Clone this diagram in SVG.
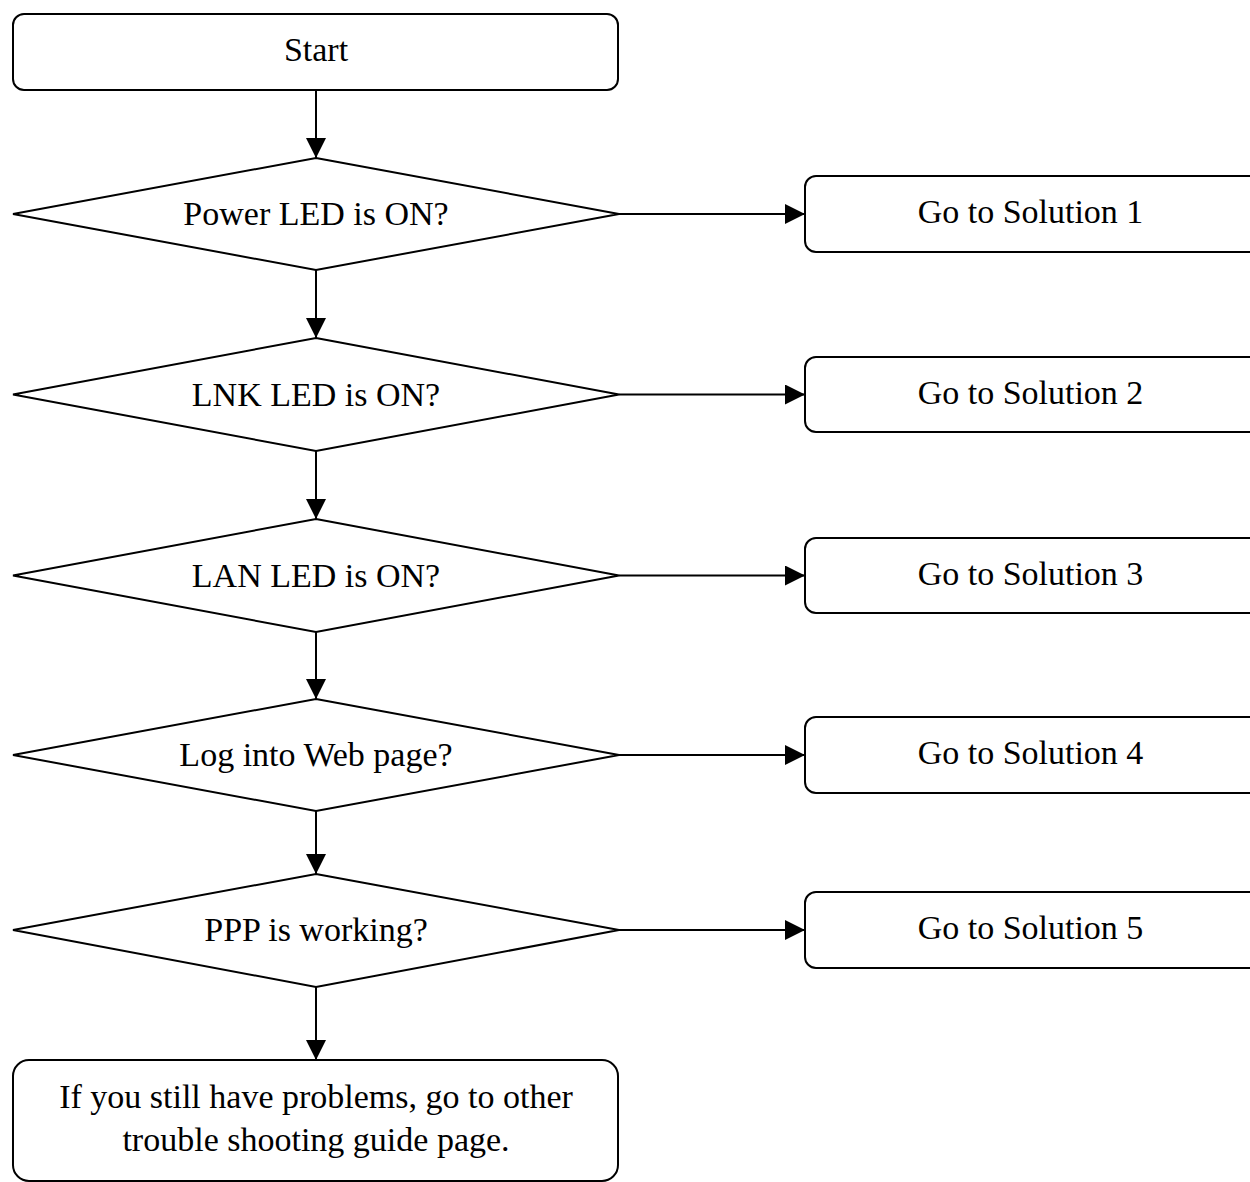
<svg xmlns="http://www.w3.org/2000/svg" width="1250" height="1182" viewBox="0 0 1250 1182">
<style>
.box{fill:#fff;stroke:#000;stroke-width:2}
.dia{fill:#fff;stroke:#000;stroke-width:2;stroke-linejoin:miter}
.lbl{font-family:"Liberation Serif","Times New Roman",serif;font-size:34px;fill:#000;text-anchor:middle}
.con{stroke:#000;stroke-width:2;fill:none;marker-end:url(#ah)}
</style>
<defs>
<marker id="ah" markerUnits="userSpaceOnUse" markerWidth="20" markerHeight="20" refX="20" refY="10" orient="auto">
<path d="M0,0 L20,10 L0,20 Z" fill="#000"/>
</marker>
</defs>
<rect width="1250" height="1182" fill="#fff"/>
<g id="connectors">
<line class="con" x1="316" y1="90" x2="316" y2="158"/>
<line class="con" x1="316" y1="270" x2="316" y2="338"/>
<line class="con" x1="316" y1="451" x2="316" y2="519"/>
<line class="con" x1="316" y1="632" x2="316" y2="699"/>
<line class="con" x1="316" y1="811" x2="316" y2="874"/>
<line class="con" x1="316" y1="987" x2="316" y2="1060"/>
<line class="con" x1="619" y1="214" x2="805" y2="214"/>
<line class="con" x1="619" y1="394.5" x2="805" y2="394.5"/>
<line class="con" x1="619" y1="575.5" x2="805" y2="575.5"/>
<line class="con" x1="619" y1="755" x2="805" y2="755"/>
<line class="con" x1="619" y1="930" x2="805" y2="930"/>
</g>
<g id="start">
<rect class="box" x="13" y="14" width="605" height="76" rx="11"/>
<text class="lbl" x="316" y="61">Start</text>
</g>
<g id="d1">
<polygon class="dia" points="316,158 619,214 316,270 13,214"/>
<text class="lbl" x="316" y="225">Power LED is ON?</text>
</g>
<g id="d2">
<polygon class="dia" points="316,338 619,394.5 316,451 13,394.5"/>
<text class="lbl" x="316" y="405.5">LNK LED is ON?</text>
</g>
<g id="d3">
<polygon class="dia" points="316,519 619,575.5 316,632 13,575.5"/>
<text class="lbl" x="316" y="586.5">LAN LED is ON?</text>
</g>
<g id="d4">
<polygon class="dia" points="316,699 619,755 316,811 13,755"/>
<text class="lbl" x="316" y="766">Log into Web page?</text>
</g>
<g id="d5">
<polygon class="dia" points="316,874 619,930 316,987 13,930"/>
<text class="lbl" x="316" y="941">PPP is working?</text>
</g>
<g id="s1">
<rect class="box" x="805" y="176" width="460" height="76" rx="11"/>
<text class="lbl" x="1030.5" y="223">Go to Solution 1</text>
</g>
<g id="s2">
<rect class="box" x="805" y="357" width="460" height="75" rx="11"/>
<text class="lbl" x="1030.5" y="403.5">Go to Solution 2</text>
</g>
<g id="s3">
<rect class="box" x="805" y="538" width="460" height="75" rx="11"/>
<text class="lbl" x="1030.5" y="584.5">Go to Solution 3</text>
</g>
<g id="s4">
<rect class="box" x="805" y="717" width="460" height="76" rx="11"/>
<text class="lbl" x="1030.5" y="764">Go to Solution 4</text>
</g>
<g id="s5">
<rect class="box" x="805" y="892" width="460" height="76" rx="11"/>
<text class="lbl" x="1030.5" y="939">Go to Solution 5</text>
</g>
<g id="end">
<rect class="box" x="13" y="1060" width="605" height="121" rx="16"/>
<text class="lbl" x="316" y="1108">If you still have problems, go to other</text>
<text class="lbl" x="316" y="1151">trouble shooting guide page.</text>
</g>
</svg>
